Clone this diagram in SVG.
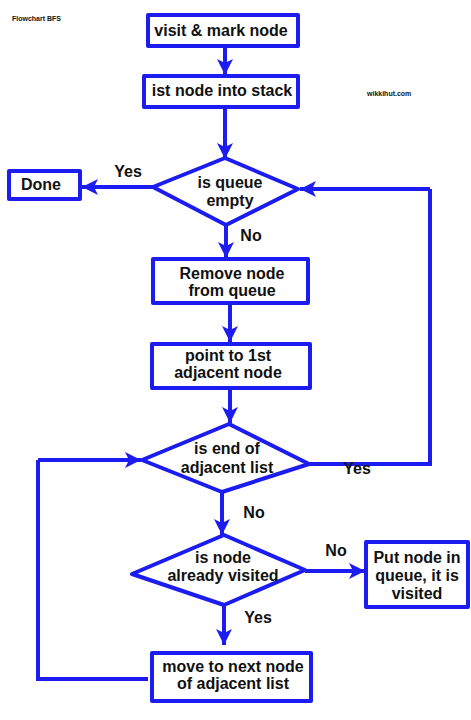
<svg xmlns="http://www.w3.org/2000/svg" width="471" height="720" viewBox="0 0 471 720">
<defs>
<marker id="ah" markerUnits="userSpaceOnUse" markerWidth="20" markerHeight="16" refX="16" refY="8" orient="auto">
<path d="M0,0 L16,8 L0,16 L4,8 Z" fill="#1c1cf0"/>
</marker>
<style>
.b{fill:#fff;stroke:#1c1cf0;stroke-width:4;stroke-linejoin:round}
.c{fill:none;stroke:#1c1cf0;stroke-width:4}
.a{marker-end:url(#ah)}
text{font-family:"Liberation Sans",Arial,sans-serif;font-weight:bold;fill:#111;text-anchor:middle}
.t{font-size:16px}
.l{font-size:16px}
.s{font-size:7px;text-anchor:start}
</style>
</defs>
<rect width="471" height="720" fill="#fff"/>
<text class="s" x="12" y="21">Flowchart BFS</text>
<text class="s" x="367" y="96">wikkihut.com</text>
<g id="connectors">
<path class="c a" d="M225,46 V75"/>
<path class="c a" d="M225,107 V159"/>
<path class="c a" d="M153,187 H82"/>
<path class="c a" d="M226,225 V258"/>
<path class="c a" d="M230,303 V342"/>
<path class="c a" d="M230,388 V423"/>
<path class="c" d="M309,464 H430 V189"/>
<path class="c a" d="M430,189 H300"/>
<path class="c a" d="M222,492 V535"/>
<path class="c a" d="M305,571 H365"/>
<path class="c a" d="M224,605 V645"/>
<path class="c" d="M148,679 H38 V460"/>
<path class="c a" d="M38,460 H141"/>
<text class="l" x="128" y="177">Yes</text>
<text class="l" x="251" y="241">No</text>
<text class="l" x="357" y="474">Yes</text>
<text class="l" x="254" y="518">No</text>
<text class="l" x="336" y="556">No</text>
<text class="l" x="258" y="623">Yes</text>
</g>
<g id="visit"><rect class="b" x="148" y="15" width="150" height="31"/><text class="t" x="221" y="36">visit &amp; mark node</text></g>
<g id="stack"><rect class="b" x="144" y="76" width="154" height="31"/><text class="t" x="222" y="96">ist node into stack</text></g>
<g id="queueEmpty"><polygon class="b" points="153,187 225,158 298,189 226,225"/><text class="t" x="230" y="188">is queue</text><text class="t" x="230" y="206">empty</text></g>
<g id="done"><rect class="b" x="9" y="171" width="71" height="28"/><text class="t" x="41" y="190">Done</text></g>
<g id="remove"><rect class="b" x="153" y="259" width="155" height="44"/><text class="t" x="232" y="279">Remove node</text><text class="t" x="232" y="296">from queue</text></g>
<g id="point"><rect class="b" x="152" y="344" width="158" height="44"/><text class="t" x="228" y="361">point to 1st</text><text class="t" x="228" y="378">adjacent node</text></g>
<g id="endList"><polygon class="b" points="142,460 229,424 309,464 222,492"/><text class="t" x="227" y="454">is end of</text><text class="t" x="227" y="473">adjacent list</text></g>
<g id="visited"><polygon class="b" points="132,574 224,535 305,570 224,605"/><text class="t" x="223" y="563">is node</text><text class="t" x="223" y="581">already visited</text></g>
<g id="put"><rect class="b" x="366" y="542" width="102" height="65"/><text class="t" x="417" y="563">Put node in</text><text class="t" x="417" y="581">queue, it is</text><text class="t" x="417" y="599">visited</text></g>
<g id="move"><rect class="b" x="152" y="653" width="159" height="48"/><text class="t" x="233" y="672">move to next node</text><text class="t" x="233" y="689">of adjacent list</text></g>
</svg>
